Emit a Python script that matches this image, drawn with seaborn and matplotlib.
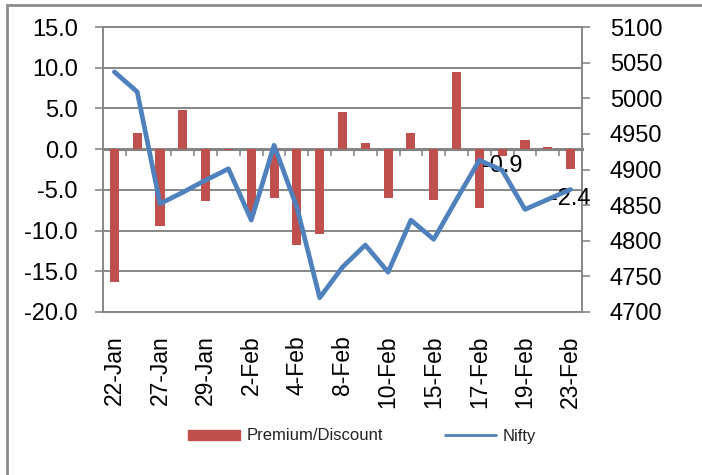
import numpy as np
import pandas as pd
import matplotlib
matplotlib.use("Agg")
import matplotlib.pyplot as plt
from matplotlib.patches import Rectangle
from matplotlib.lines import Line2D
import seaborn as sns

# === Data ===
dates = ["22-Jan", "25-Jan", "27-Jan", "28-Jan", "29-Jan", "1-Feb", "2-Feb",
         "3-Feb", "4-Feb", "5-Feb", "8-Feb", "9-Feb", "10-Feb", "11-Feb",
         "15-Feb", "16-Feb", "17-Feb", "18-Feb", "19-Feb", "22-Feb", "23-Feb"]
premium = [-16.3, 2.0, -9.4, 4.8, -6.4, -0.1, -8.0, -6.0, -11.8, -10.4, 4.5,
           0.7, -6.0, 2.0, -6.3, 9.5, -7.2, -0.9, 1.1, 0.3, -2.4]
nifty = [5037, 5009, 4852, 4868, 4885, 4901, 4829, 4934, 4847, 4720, 4763,
         4794, 4756, 4829, 4802, 4858, 4913, 4899, 4844, 4858, 4872]
left_ticks = [-20, -15, -10, -5, 0, 5, 10, 15]
right_ticks = [4700, 4750, 4800, 4850, 4900, 4950, 5000, 5050, 5100]
labelled = {17: (-0.9, -7), 20: (-2.4, -22)}   # index: (text value, offset pt)

df = pd.DataFrame({"date": dates, "premium": premium, "nifty": nifty})
df["pos"] = np.arange(len(df))

BAR = "#C0504D"
LINE = "#4F81BD"
GRID = "#878787"

sns.set_style("white")
plt.rcParams["font.family"] = ["Liberation Sans", "DejaVu Sans"]

fig = plt.figure(figsize=(7.02, 4.75), dpi=100)
ax = fig.add_axes([103 / 702, 1 - 312 / 475, 479 / 702, 285 / 475])

# === Bars (left axis) ===
sns.barplot(data=df, x="date", y="premium", order=dates, color=BAR,
            saturation=1, width=0.4, linewidth=0, ax=ax, zorder=2)
ax.set_xlim(-0.5, len(dates) - 0.5)
ax.set_ylim(left_ticks[0], left_ticks[-1])
ax.set_yticks(left_ticks)
ax.set_yticklabels([f"{v:.1f}" for v in left_ticks])
ax.yaxis.grid(True, color=GRID, lw=1.4)
ax.set_axisbelow(True)
ax.set_xlabel("")
ax.set_ylabel("")
for s in ax.spines.values():
    s.set_color(GRID)
    s.set_linewidth(1.4)
ax.tick_params(axis="y", direction="out", length=6, width=1.2, color=GRID,
               pad=12, labelsize=17, labelcolor="black", left=True)
ax.set_xticks(df["pos"])
ax.set_xticklabels([d if i % 2 == 0 else "" for i, d in enumerate(dates)],
                   rotation=90)
ax.tick_params(axis="x", length=0, pad=17, labelsize=16.5, labelcolor="black")

# zero line with category boundary ticks
zero_loc = -left_ticks[0] / (left_ticks[-1] - left_ticks[0])
sec = ax.secondary_xaxis(zero_loc)
sec.set_alignment("bottom")
sec.set_xticks(np.arange(len(dates) + 1) - 0.5)
sec.set_xticklabels([])
sec.tick_params(axis="x", direction="out", length=5, width=1.2, color=GRID)
sec.spines["bottom"].set_color("#808080")
sec.spines["bottom"].set_linewidth(2.2)

for i, (val, off) in labelled.items():
    ax.annotate(f"{val:.1f}", xy=(i, premium[i]), xytext=(0, off),
                textcoords="offset points", ha="center", va="center",
                fontsize=17, color="black", zorder=5)

# === Line (right axis) ===
ax2 = ax.twinx()
sns.lineplot(data=df, x="pos", y="nifty", color=LINE, lw=3.4, ax=ax2,
             solid_joinstyle="round", solid_capstyle="round")
ax2.set_ylim(right_ticks[0], right_ticks[-1])
ax2.set_yticks(right_ticks)
ax2.set_ylabel("")
ax2.set_xlabel("")
for s in ax2.spines.values():
    s.set_visible(False)
ax2.tick_params(axis="y", direction="out", length=6, width=1.2, color=GRID,
                pad=14, labelsize=17, labelcolor="black", right=True)

# === Legend ===
handles = [Rectangle((0, 0), 1, 1, color=BAR), Line2D([], [], color=LINE, lw=2)]
fig.legend(handles, ["Premium/Discount", "Nifty"], loc="center",
           bbox_to_anchor=(0.516, 1 - 436 / 475), ncol=2, frameon=False,
           fontsize=12, handlelength=3.1, handleheight=0.55,
           handletextpad=0.4, columnspacing=3.7, labelcolor="#222222")

# chart border
fig.add_artist(Rectangle((7 / 702, -0.5), 2, 0.5 + (1 - 5 / 475),
                         transform=fig.transFigure, fill=False,
                         edgecolor="#8C8C8C", lw=2))

fig.savefig("out.png", dpi=100)
